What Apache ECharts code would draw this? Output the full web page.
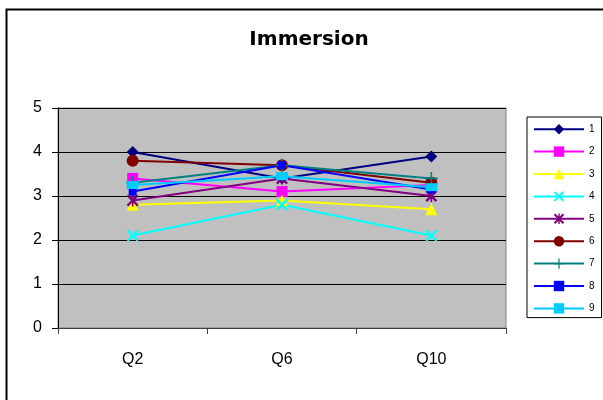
<!DOCTYPE html>
<html><head><meta charset="utf-8">
<script src="https://cdn.jsdelivr.net/npm/echarts@6/dist/echarts.min.js"></script>
<style>html,body{margin:0;padding:0;background:#fff}#c{width:603px;height:400px}</style>
</head><body><div id="c"></div>
<script>
var categories = ['Q2', 'Q6', 'Q10'];
var seriesNames = ['1','2','3','4','5','6','7','8','9'];
var s1 = [4.0, 3.4, 3.9];
var s2 = [3.4, 3.1, 3.25];
var s3 = [2.8, 2.9, 2.7];
var s4 = [2.1, 2.8, 2.1];
var s5 = [2.9, 3.4, 3.0];
var s6 = [3.8, 3.7, 3.3];
var s7 = [3.3, 3.7, 3.4];
var s8 = [3.1, 3.7, 3.15];
var s9 = [3.25, 3.45, 3.2];
var yTicks = [0, 1, 2, 3, 4, 5];

var X_PATH = 'path://M0,1.4 L1.4,0 L5,3.6 L8.6,0 L10,1.4 L6.4,5 L10,8.6 L8.6,10 L5,6.4 L1.4,10 L0,8.6 L3.6,5 Z';
var STAR_PATH = 'path://M0,1.4 L1.4,0 L5,3.6 L8.6,0 L10,1.4 L6.4,5 L10,8.6 L8.6,10 L5,6.4 L1.4,10 L0,8.6 L3.6,5 Z M4.3,0 L5.7,0 L5.7,10 L4.3,10 Z';
var PLUS_PATH = 'path://M4.4,0 L5.6,0 L5.6,4.4 L10,4.4 L10,5.6 L5.6,5.6 L5.6,10 L4.4,10 L4.4,5.6 L0,5.6 L0,4.4 L4.4,4.4 Z';

var defs = [
  {data: s1, color: '#000080', symbol: 'diamond', size: 12},
  {data: s2, color: '#FF00FF', symbol: 'rect', size: 11},
  {data: s3, color: '#FFFF00', symbol: 'triangle', size: 12},
  {data: s4, color: '#00FFFF', symbol: X_PATH, size: 12},
  {data: s5, color: '#800080', symbol: STAR_PATH, size: 12},
  {data: s6, color: '#800000', symbol: 'circle', size: 12},
  {data: s7, color: '#008080', symbol: PLUS_PATH, size: 13},
  {data: s8, color: '#0000FF', symbol: 'rect', size: 8},
  {data: s9, color: '#00CCFF', symbol: 'rect', size: [12, 8]}
];

var series = defs.map(function (d, i) {
  return {
    name: seriesNames[i], type: 'line', data: d.data,
    symbol: d.symbol, symbolSize: d.size, showSymbol: true,
    lineStyle: {color: d.color, width: 2},
    itemStyle: {color: d.color},
    emphasis: {disabled: true},
    animation: false
  };
});

var chart = echarts.init(document.getElementById('c'), null, {renderer: 'canvas'});
chart.setOption({
  backgroundColor: '#ffffff',
  animation: false,
  title: {
    text: 'Immersion', left: 304, top: 25, textAlign: 'center',
    textStyle: {fontFamily: 'DejaVu Sans', fontWeight: 'bold', fontSize: 20, color: '#000'}
  },
  graphic: [{
    type: 'rect', shape: {x: 6.5, y: 9.5, width: 700, height: 500},
    style: {fill: 'none', stroke: '#000', lineWidth: 2}, silent: true, z: -1
  }],
  legend: {
    orient: 'vertical', left: 527, top: 117,
    padding: [7, 7, 4, 6],
    itemWidth: 50, itemHeight: 13, itemGap: 12,
    borderColor: '#000', borderWidth: 1,
    backgroundColor: '#fff',
    textStyle: {fontFamily: 'Arial, Liberation Sans', fontSize: 10, color: '#000'},
    data: seriesNames
  },
  grid: {
    left: 58, right: 97, top: 108, bottom: 72,
    show: true, backgroundColor: '#C0C0C0', borderColor: '#808080', borderWidth: 1
  },
  xAxis: {
    type: 'category', data: categories, boundaryGap: true,
    axisLine: {lineStyle: {color: '#404040', width: 1}},
    axisTick: {show: true, length: 6, inside: false, lineStyle: {color: '#404040'}},
    axisLabel: {fontFamily: 'Arial, Liberation Sans', fontSize: 16, color: '#000', margin: 24},
    splitLine: {show: false}
  },
  yAxis: {
    type: 'value', min: yTicks[0], max: yTicks[yTicks.length - 1], interval: 1,
    axisLine: {show: true, lineStyle: {color: '#000', width: 1}},
    axisTick: {show: true, length: 6, lineStyle: {color: '#000'}},
    axisLabel: {fontFamily: 'Arial, Liberation Sans', fontSize: 16, color: '#000', margin: 16},
    splitLine: {show: true, lineStyle: {color: '#000', width: 1}}
  },
  series: series
});
</script></body></html>
